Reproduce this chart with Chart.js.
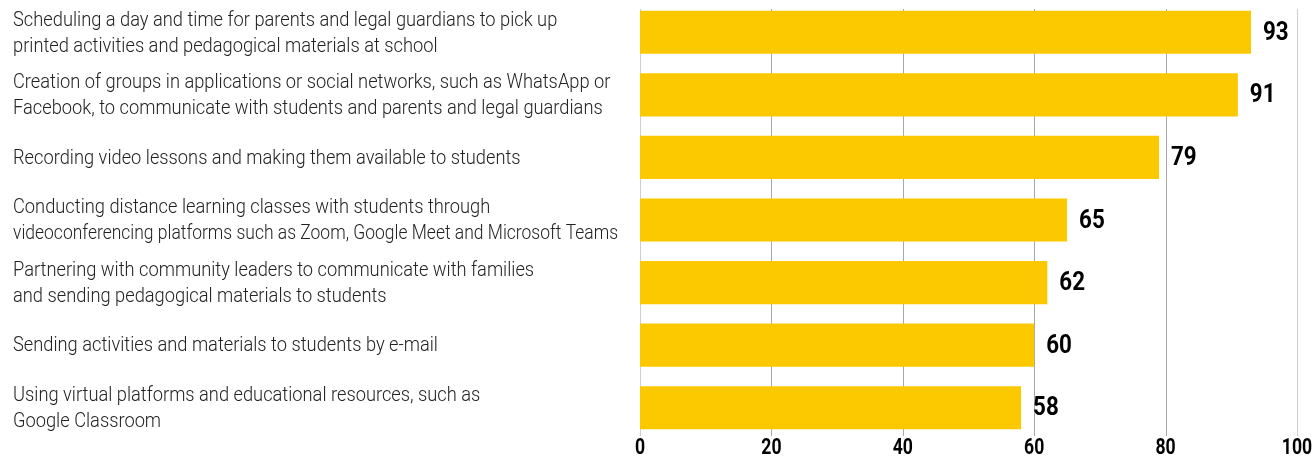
<!DOCTYPE html>
<html>
<head>
<meta charset="utf-8">
<script src="https://cdn.jsdelivr.net/npm/chart.js@4"></script>
<style>
  html, body { margin: 0; padding: 0; background: #fff; }
  #wrap { width: 1312px; height: 458px; }
</style>
</head>
<body>
<div id="wrap"><canvas id="chart" width="1312" height="458"></canvas></div>
<script>
// Activities (each label split into its printed lines)
const categories = [
  ["Scheduling a day and time for parents and legal guardians to pick up", "printed activities and pedagogical materials at school"],
  ["Creation of groups in applications or social networks, such as WhatsApp or", "Facebook, to communicate with students and parents and legal guardians"],
  ["Recording video lessons and making them available to students"],
  ["Conducting distance learning classes with students through", "videoconferencing platforms such as Zoom, Google Meet and Microsoft Teams"],
  ["Partnering with community leaders to communicate with families", "and sending pedagogical materials to students"],
  ["Sending activities and materials to students by e-mail"],
  ["Using virtual platforms and educational resources, such as", "Google Classroom"]
];
const values = [93, 91, 79, 65, 62, 60, 58];
const xTicks = [0, 20, 40, 60, 80, 100];

const barColor = "#FCC800";
const textColor = "#222";

// Roboto Condensed isn't installed, so squeeze Roboto horizontally
// maxW (screen px) keeps long lines clear of the bars
function drawSqueezed(ctx, text, x, y, squeeze, align, maxW) {
  ctx.save();
  ctx.translate(x, y);
  ctx.scale(squeeze, 1);
  ctx.textAlign = align;
  if (maxW) ctx.fillText(text, 0, 0, maxW / squeeze);
  else ctx.fillText(text, 0, 0);
  ctx.restore();
}

const textPlugin = {
  id: "textPlugin",
  // vertical grid lines, a bit shorter than the chart area like the original
  beforeDatasetsDraw(chart) {
    const ctx = chart.ctx;
    const xScale = chart.scales.x;
    ctx.save();
    ctx.lineWidth = 1;
    xTicks.forEach(t => {
      const x = Math.round(xScale.getPixelForValue(t)) + 0.5;
      ctx.strokeStyle = (t === 0 || t === 100) ? "#cfcfcf" : "#a8a8a8";
      ctx.beginPath();
      ctx.moveTo(x, 9);
      ctx.lineTo(x, 436);
      ctx.stroke();
    });
    ctx.restore();
  },
  afterDraw(chart) {
    const ctx = chart.ctx;
    const yScale = chart.scales.y;
    const xScale = chart.scales.x;

    // category labels, left aligned
    ctx.fillStyle = textColor;
    ctx.font = "300 21px Roboto";
    ctx.textBaseline = "middle";
    const lineH = 26;
    categories.forEach((lines, i) => {
      const cy = yScale.getPixelForValue(i) + 1;
      const top = cy - (lines.length - 1) * lineH / 2;
      lines.forEach((ln, j) => drawSqueezed(ctx, ln, 13, top + j * lineH, 0.87, "left", 605));
    });

    // value labels at bar ends
    ctx.fillStyle = "#000";
    ctx.font = "bold 26px Roboto";
    chart.getDatasetMeta(0).data.forEach((bar, i) => {
      drawSqueezed(ctx, String(values[i]), bar.x + 12, bar.y + 1, 0.86, "left");
    });

    // x tick labels
    ctx.font = "bold 22px Roboto";
    xTicks.forEach(t => {
      drawSqueezed(ctx, String(t), xScale.getPixelForValue(t), 448, 0.8, "center");
    });
  }
};

new Chart(document.getElementById("chart"), {
  type: "bar",
  data: {
    labels: categories.map(c => c.join(" ")),
    datasets: [{
      data: values,
      backgroundColor: barColor,
      borderWidth: 0,
      barPercentage: 0.69,
      categoryPercentage: 1
    }]
  },
  options: {
    indexAxis: "y",
    responsive: false,
    animation: false,
    events: [],
    layout: { padding: { top: 1, right: 15, left: 0, bottom: 0 } },
    plugins: { legend: { display: false }, tooltip: { enabled: false } },
    scales: {
      x: {
        min: 0,
        max: 100,
        afterBuildTicks: (s) => { s.ticks = xTicks.map(v => ({ value: v })); },
        afterFit: (s) => { s.height = 19; },
        ticks: { display: false },
        border: { display: false },
        grid: { display: false }
      },
      y: {
        afterFit: (s) => { s.width = 640; },
        ticks: { display: false },
        border: { display: false },
        grid: { display: false }
      }
    }
  },
  plugins: [textPlugin]
});
</script>
</body>
</html>
